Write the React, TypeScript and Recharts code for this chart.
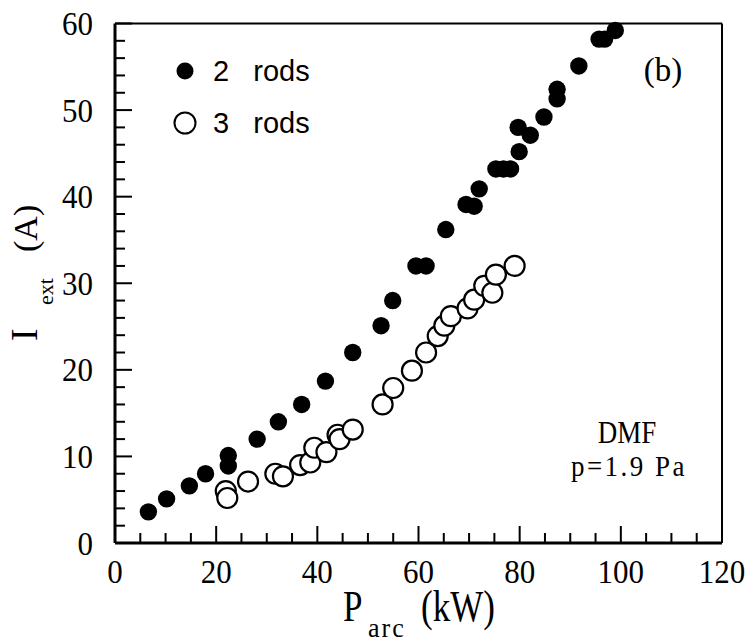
import { ScatterChart, Scatter, XAxis, YAxis, ReferenceLine, Legend, Customized } from 'recharts';

// 2 rods (filled symbols)
const twoRodsP = [6.6, 10.2, 14.7, 17.9, 22.4, 22.4, 28.1, 32.3, 36.9, 41.6, 47.0, 52.6, 54.9, 59.5, 61.5, 65.4, 69.4, 71.0, 72.0, 75.3, 76.8, 78.2, 79.9, 79.7, 82.1, 84.8, 87.4, 87.4, 91.7, 95.7, 96.8, 98.9];
const twoRodsI = [3.6, 5.1, 6.6, 8.0, 10.1, 8.9, 12.0, 14.0, 16.0, 18.7, 22.0, 25.1, 28.0, 32.0, 32.0, 36.2, 39.1, 38.9, 40.9, 43.2, 43.2, 43.2, 45.2, 48.0, 47.1, 49.2, 52.4, 51.3, 55.1, 58.2, 58.2, 59.2];

// 3 rods (open symbols)
const threeRodsP = [21.9, 22.2, 26.3, 31.7, 33.2, 36.6, 38.6, 39.4, 41.8, 44.0, 44.4, 47.0, 52.9, 55.0, 58.7, 61.5, 63.8, 65.1, 66.4, 69.7, 71.0, 73.0, 74.6, 75.3, 79.0];
const threeRodsI = [6.0, 5.2, 7.1, 8.0, 7.7, 9.0, 9.3, 11.0, 10.5, 12.5, 12.0, 13.1, 16.0, 17.9, 19.9, 22.0, 23.9, 25.1, 26.2, 27.1, 28.1, 29.7, 28.9, 31.0, 32.0];

const xTicks = [0, 5, 10, 15, 20, 25, 30, 35, 40, 45, 50, 55, 60, 65, 70, 75, 80, 85, 90, 95, 100, 105, 110, 115, 120];
const yTicks = [0, 2, 4, 6, 8, 10, 12, 14, 16, 18, 20, 22, 24, 26, 28, 30, 32, 34, 36, 38, 40, 42, 44, 46, 48, 50, 52, 54, 56, 58, 60];
const xLabels = [0, 20, 40, 60, 80, 100, 120];
const yLabels = [0, 10, 20, 30, 40, 50, 60];

const twoRods = twoRodsP.map((p, i) => ({ p, i: twoRodsI[i] }));
const threeRods = threeRodsP.map((p, i) => ({ p, i: threeRodsI[i] }));

const serif = '"Liberation Serif", "Times New Roman", serif';
const sans = '"Liberation Sans", Arial, sans-serif';

// the original figure's serif lettering is stretched vertically
const Tall = ({ x, y, size, sy = 1.2, anchor = 'start', spacing = 0, children }: any) => (
  <text
    transform={`translate(${x},${y}) scale(1,${sy})`}
    textAnchor={anchor}
    fontFamily={serif}
    fontSize={size}
    letterSpacing={spacing}
    fill="#000"
  >
    {children}
  </text>
);

const XTick = (props: any) => {
  const { x, y, payload } = props;
  const major = xLabels.includes(payload.value);
  return (
    <g>
      <line x1={x} x2={x} y1={y} y2={y - (major ? 17 : 10)} stroke="#000" strokeWidth={2} />
      {major && (
        <Tall x={x} y={y + 40} size={31} sy={1.12} anchor="middle">
          {payload.value}
        </Tall>
      )}
    </g>
  );
};

const YTick = (props: any) => {
  const { x, y, payload } = props;
  const major = yLabels.includes(payload.value);
  return (
    <g>
      <line x1={x} x2={x + (major ? 17 : 10)} y1={y} y2={y} stroke="#000" strokeWidth={2} />
      {major && (
        <Tall x={x - 22} y={y + 11.5} size={31} sy={1.12} anchor="end">
          {payload.value}
        </Tall>
      )}
    </g>
  );
};

const FilledDot = (props: any) => <circle cx={props.cx} cy={props.cy} r={8.7} fill="#000" />;
const OpenDot = (props: any) => (
  <circle cx={props.cx} cy={props.cy} r={10} fill="#fff" stroke="#000" strokeWidth={2.2} />
);

const renderLegend = () => (
  <div style={{ fontFamily: sans, fontSize: 29, color: '#000', lineHeight: '52px' }}>
    <div style={{ display: 'flex', alignItems: 'center' }}>
      <svg width={24} height={24} style={{ marginRight: 16 }}>
        <circle cx={12} cy={12} r={8.5} fill="#000" />
      </svg>
      <span style={{ whiteSpace: 'pre' }}>2   rods</span>
    </div>
    <div style={{ display: 'flex', alignItems: 'center' }}>
      <svg width={24} height={24} style={{ marginRight: 16 }}>
        <circle cx={12} cy={12} r={10.5} fill="#fff" stroke="#000" strokeWidth={2} />
      </svg>
      <span style={{ whiteSpace: 'pre' }}>3   rods</span>
    </div>
  </div>
);

const Annotations = () => (
  <g>
    <Tall x={663} y={81} size={33} sy={1} anchor="middle">(b)</Tall>
    <Tall x={627} y={443} size={27} sy={1.15} anchor="middle">DMF</Tall>
    <Tall x={629} y={476} size={27} sy={1.1} anchor="middle" spacing={2.5}>p=1.9 Pa</Tall>
    <Tall x={343} y={621} size={35} sy={1.25}>P</Tall>
    <Tall x={368} y={637} size={26} sy={1.05} spacing={2}>arc</Tall>
    <Tall x={421} y={621} size={35} sy={1.25}>(kW)</Tall>
    <g transform="translate(37,341) rotate(-90)" fontFamily={serif} fill="#000">
      <text x={0} y={0} fontSize={38}>I</text>
      <text x={36} y={16} fontSize={22}>ext</text>
      <text x={89} y={0} fontSize={34}>(A)</text>
    </g>
  </g>
);

export default function App() {
  return (
    <div style={{ position: 'absolute', left: 0, top: 0, width: 753, height: 643, background: '#fff' }}>
      <ScatterChart width={753} height={643} margin={{ top: 23.5, right: 31, left: 35, bottom: 40 }}>
        <XAxis
          type="number"
          dataKey="p"
          domain={[0, 120]}
          ticks={xTicks}
          interval={0}
          tick={<XTick />}
          tickLine={false}
          tickSize={0}
          tickMargin={0}
          height={60}
          axisLine={{ stroke: '#000', strokeWidth: 3 }}
        />
        <YAxis
          type="number"
          dataKey="i"
          domain={[0, 60]}
          ticks={yTicks}
          interval={0}
          tick={<YTick />}
          tickLine={false}
          tickSize={0}
          tickMargin={0}
          width={80}
          axisLine={{ stroke: '#000', strokeWidth: 3 }}
        />
        <ReferenceLine y={60} stroke="#000" strokeWidth={2} />
        <ReferenceLine x={120} stroke="#000" strokeWidth={2} />
        <Scatter name="2 rods" data={twoRods} shape={<FilledDot />} isAnimationActive={false} />
        <Scatter name="3 rods" data={threeRods} shape={<OpenDot />} isAnimationActive={false} />
        <Legend
          layout="vertical"
          align="center"
          verticalAlign="middle"
          content={renderLegend}
          wrapperStyle={{ top: 45, left: 173, width: 'auto' }}
        />
        <Customized component={<Annotations />} />
      </ScatterChart>
    </div>
  );
}
